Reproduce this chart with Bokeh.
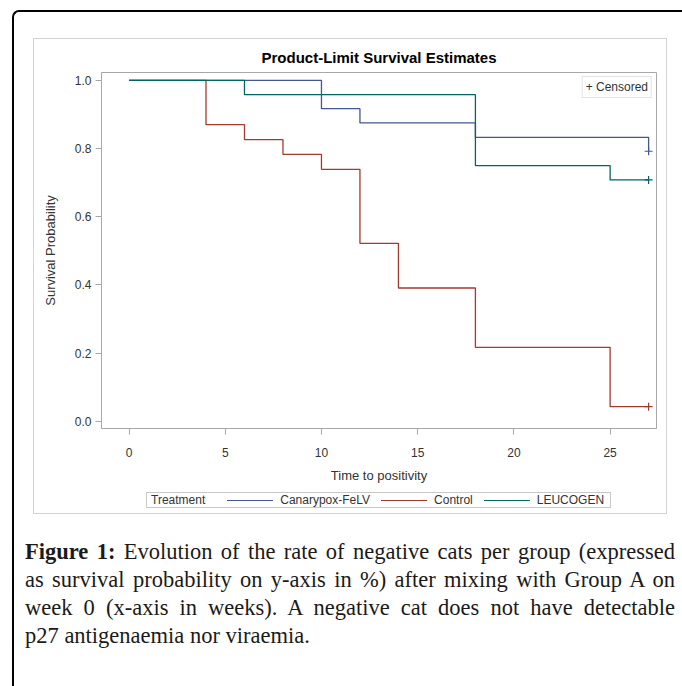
from bokeh.plotting import figure
from bokeh.models import Legend, LegendItem, FixedTicker, Range1d, Div
from bokeh.layouts import column
from bokeh.embed import file_html
from bokeh.resources import INLINE

# ---------------- data ----------------
groups = ["Canarypox-FeLV", "Control", "LEUCOGEN"]
canary_time = [0, 10, 12, 18, 27]
canary_surv = [1.0, 0.917, 0.875, 0.833, 0.792]
control_time = [0, 4, 6, 8, 10, 12, 14, 18, 25, 27]
control_surv = [1.0, 0.870, 0.826, 0.783, 0.739, 0.522, 0.391, 0.217, 0.043, 0.043]
leucogen_time = [0, 6, 18, 25, 27]
leucogen_surv = [1.0, 0.958, 0.750, 0.708, 0.708]
censor_time = [27, 27, 27]
censor_surv = [0.792, 0.043, 0.708]
x_ticks = [0, 5, 10, 15, 20, 25]
y_ticks = [0.0, 0.2, 0.4, 0.6, 0.8, 1.0]
y_tick_labels = ["0.0", "0.2", "0.4", "0.6", "0.8", "1.0"]
colors = ["#445694", "#A23A2E", "#01665E"]

FONT = "Liberation Sans"
TXT = "#333333"
GREY = "#a8a8a8"

p = figure(width=632, height=446, output_backend="svg", toolbar_location=None,
           x_range=Range1d(-1.43, 27.41), y_range=Range1d(-0.021, 1.023),
           min_border_left=67, min_border_right=10, min_border_top=33,
           min_border_bottom=53, title="Product-Limit Survival Estimates")
p.title.align = "center"
p.title.vertical_align = "middle"
p.title.text_font = FONT
p.title.text_font_size = "15px"
p.title.text_font_style = "bold"
p.title.text_color = "#000000"
p.title.standoff = 11

p.xgrid.visible = False
p.ygrid.visible = False
p.outline_line_color = GREY
p.outline_line_width = 1
p.background_fill_color = "white"
p.border_fill_color = "white"

for ax in (p.xaxis[0], p.yaxis[0]):
    ax.axis_line_color = GREY
    ax.major_tick_line_color = GREY
    ax.major_tick_out = 6
    ax.major_tick_in = 0
    ax.minor_tick_line_color = None
    ax.major_label_text_font = FONT
    ax.major_label_text_font_size = "12px"
    ax.major_label_text_color = TXT
    ax.axis_label_text_font = FONT
    ax.axis_label_text_font_size = "13px"
    ax.axis_label_text_font_style = "normal"
    ax.axis_label_text_color = TXT

p.xaxis.ticker = FixedTicker(ticks=x_ticks)
p.xaxis.axis_label = "Time to positivity"
p.xaxis.major_label_standoff = 13
p.xaxis.axis_label_standoff = 8
p.yaxis.ticker = FixedTicker(ticks=y_ticks)
p.yaxis.major_label_overrides = {t: l for t, l in zip(y_ticks, y_tick_labels)}
p.yaxis.axis_label = "Survival Probability"
p.yaxis.major_label_standoff = 4
p.yaxis.axis_label_standoff = 14

series = [(canary_time, canary_surv), (control_time, control_surv), (leucogen_time, leucogen_surv)]
for (t, s), c in zip(series, colors):
    p.step(t, s, mode="after", line_color=c, line_width=1.3)

for i, c in enumerate(colors):
    p.scatter([censor_time[i]], [censor_surv[i]], marker="cross", size=8,
              line_color=c, line_width=1.2)

# legend-only renderer (no data); the "+" symbol is part of the legend text
dummy = p.scatter([], [], marker="cross", size=8, line_color="#333333", line_width=1.2)
cens_leg = Legend(items=[LegendItem(label="+ Censored", renderers=[dummy])],
                  location="top_right", margin=4, padding=3, glyph_width=0,
                  glyph_height=10, label_standoff=0, label_height=10,
                  label_text_font=FONT, label_text_font_size="12px",
                  label_text_color=TXT, border_line_color="#c8c8c8",
                  background_fill_color="white", background_fill_alpha=1)
p.add_layout(cens_leg)

# bottom group legend (HTML box under the axis label)
items_html = "".join(
    f"<span style=\"display:inline-block;width:46px;height:0;border-top:1px solid {c};"
    f"margin-left:{22 if i == 0 else 11}px;\"></span>"
    f"<span style=\"margin-left:7px;\">{g}</span>"
    for i, (g, c) in enumerate(zip(groups, colors))
)
leg_html = (
    "<div style=\"margin-left:112px;margin-top:7px;width:465px;height:16px;"
    "border:1px solid #c8c8c8;font-family:'Liberation Sans';font-size:12px;color:#333333;"
    "line-height:16px;white-space:nowrap;display:flex;align-items:center;\">"
    "<span style=\"margin-left:4px;\">Treatment</span>" + items_html + "</div>"
)
leg_div = Div(text=leg_html, width=632, height=28, margin=0)

panel = column(p, leg_div, width=634, height=476, margin=(26, 0, 0, 19),
               styles={"border": "1px solid #d4d4d4"})

line_style = "display:block;text-align:justify;text-align-last:justify;"
caption_html = (
    "<div style=\"font-family:'Liberation Serif';font-size:22.5px;line-height:28px;color:#1a1a1a;width:650px;\">"
    f"<span style=\"{line_style}\"><b>Figure 1:</b> Evolution of the rate of negative cats per group (expressed</span>"
    f"<span style=\"{line_style}\">as survival probability on y-axis in %) after mixing with Group A on</span>"
    f"<span style=\"{line_style}\">week 0 (x-axis in weeks). A negative cat does not have detectable</span>"
    "<span style=\"display:block;text-align:left;\">p27 antigenaemia nor viraemia.</span>"
    "</div>"
)
cap = Div(text=caption_html, width=650, height=120, margin=(24, 0, 0, 11))

root = column(panel, cap, width=670, height=676, margin=(10, 0, 0, 12),
              styles={"border-top": "2px solid #000", "border-left": "2px solid #000",
                      "border-top-left-radius": "7px"})

open("out.html", "w").write(file_html(root, INLINE))
